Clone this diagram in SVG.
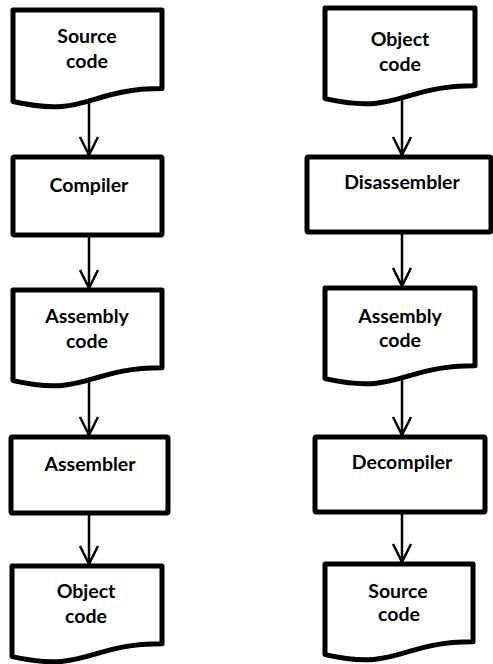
<svg xmlns="http://www.w3.org/2000/svg" width="493" height="664" viewBox="0 0 493 664">
<style>
.shape{fill:#fff;stroke:#000;stroke-width:5;stroke-linejoin:round}
.lbl{font-family:Lato,"Open Sans","Liberation Sans",sans-serif;font-weight:bold;font-size:19.5px;fill:#000;text-anchor:middle}
.conn{fill:none;stroke:#000;stroke-width:2.5}
</style>
<defs>
<marker id="arr" markerUnits="userSpaceOnUse" viewBox="-22 -12 26 24" markerWidth="26" markerHeight="24" refX="0" refY="0" orient="auto">
<path d="M-18,-9 L0,0 L-18,9" fill="none" stroke="#000" stroke-width="2.5" stroke-linejoin="miter"/>
</marker>
</defs>
<g id="left-source-code">
<path class="shape" d="M13,10 H162 V88.6 C87.5,88.6 87.5,118.5 13,101.5 Z"/>
<text class="lbl" x="87" y="43">Source</text>
<text class="lbl" x="87" y="68">code</text>
</g>
<g id="compiler">
<rect class="shape" x="13" y="157" width="149" height="78" rx="1.5"/>
<text class="lbl" x="89" y="192">Compiler</text>
</g>
<g id="left-assembly-code">
<path class="shape" d="M13,290 H162 V367.8 C87.5,367.8 87.5,397.4 13,380.6 Z"/>
<text class="lbl" x="87" y="323">Assembly</text>
<text class="lbl" x="87" y="348">code</text>
</g>
<g id="assembler">
<rect class="shape" x="11" y="437" width="157" height="76" rx="1.5"/>
<text class="lbl" x="90" y="471">Assembler</text>
</g>
<g id="left-object-code">
<path class="shape" d="M12,566 H162 V643.8 C87,643.8 87,673.4 12,656.6 Z"/>
<text class="lbl" x="86" y="598">Object</text>
<text class="lbl" x="86" y="623">code</text>
</g>
<g id="right-object-code">
<path class="shape" d="M325,8 H475 V85.8 C400,85.8 400,115.4 325,98.6 Z"/>
<text class="lbl" x="400" y="46">Object</text>
<text class="lbl" x="400" y="71">code</text>
</g>
<g id="disassembler">
<rect class="shape" x="307" y="157" width="184" height="75" rx="1.5"/>
<text class="lbl" x="402" y="189">Disassembler</text>
</g>
<g id="right-assembly-code">
<path class="shape" d="M325,288 H475 V365.8 C400,365.8 400,395.4 325,378.6 Z"/>
<text class="lbl" x="400" y="323">Assembly</text>
<text class="lbl" x="400" y="347">code</text>
</g>
<g id="decompiler">
<rect class="shape" x="315" y="437" width="170" height="75" rx="1.5"/>
<text class="lbl" x="402" y="469">Decompiler</text>
</g>
<g id="right-source-code">
<path class="shape" d="M325,564 H473 V641.8 C399,641.8 399,671.4 325,654.6 Z"/>
<text class="lbl" x="398" y="598">Source</text>
<text class="lbl" x="399" y="621">code</text>
</g>
<g id="connectors">
<line class="conn" x1="89" y1="103" x2="89" y2="155" marker-end="url(#arr)"/>
<line class="conn" x1="89" y1="237" x2="89" y2="288" marker-end="url(#arr)"/>
<line class="conn" x1="89" y1="382" x2="89" y2="435" marker-end="url(#arr)"/>
<line class="conn" x1="89" y1="515" x2="89" y2="564" marker-end="url(#arr)"/>
<line class="conn" x1="402" y1="100" x2="402" y2="155" marker-end="url(#arr)"/>
<line class="conn" x1="402" y1="234" x2="402" y2="286" marker-end="url(#arr)"/>
<line class="conn" x1="402" y1="380" x2="402" y2="435" marker-end="url(#arr)"/>
<line class="conn" x1="402" y1="514" x2="402" y2="562" marker-end="url(#arr)"/>
</g>
</svg>
